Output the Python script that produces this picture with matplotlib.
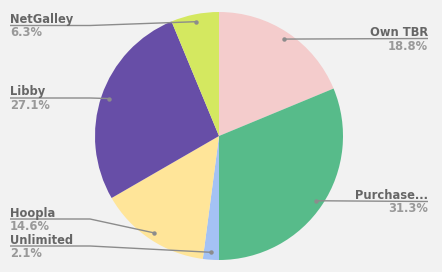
import numpy as np
import matplotlib.pyplot as plt
from decimal import Decimal, ROUND_HALF_UP

labels = ['Own TBR', 'Purchase...', 'Unlimited', 'Hoopla', 'Libby', 'NetGalley']
counts = [9, 15, 1, 7, 13, 3]
colors = ['#f4cccc', '#57bb8a', '#a4c2f4', '#ffe599', '#674ea7', '#d4e860']

W, H = 442, 272
fig = plt.figure(figsize=(W / 100, H / 100), dpi=100, facecolor='#f2f2f2')
ax = fig.add_axes([0, 0, 1, 1])
ax.set_facecolor('#f2f2f2')

cx, cy, r = 219, H - 136, 124
wedges, _ = ax.pie(counts, colors=colors, startangle=90, counterclock=False,
                   center=(cx, cy), radius=r, wedgeprops=dict(linewidth=0))
ax.set_xlim(0, W)
ax.set_ylim(0, H)
ax.set_aspect('equal')
ax.axis('off')

# label layout (pixel y of the underline, measured from top)
line_y = {'Own TBR': 38.5, 'Purchase...': 201.5, 'Unlimited': 246,
          'Hoopla': 219, 'Libby': 98, 'NetGalley': 25.5}

total = sum(counts)
line_col = '#8c8c8c'
for w, lab, c in zip(wedges, labels, counts):
    mid = np.deg2rad((w.theta1 + w.theta2) / 2)
    dx = cx + 0.94 * r * np.cos(mid)
    dy = cy + 0.94 * r * np.sin(mid)
    ly = H - line_y[lab]
    p = Decimal(100 * c) / Decimal(total)
    pct = str(p.quantize(Decimal('0.1'), rounding=ROUND_HALF_UP)) + '%'
    if np.cos(mid) >= 0:
        xs, ys = [dx, 428], [dy, ly]
        tx, ha = 428, 'right'
    else:
        xs, ys = [dx, 90, 10], [dy, ly, ly]
        tx, ha = 10, 'left'
    ax.plot(xs, ys, color=line_col, lw=1, solid_capstyle='butt')
    ax.plot(dx, dy, 'o', color=line_col, ms=3.2, mec='none')
    ax.text(tx, ly + 2.5, lab, ha=ha, va='baseline', fontsize=8.3,
            fontweight='bold', color='#666666')
    ax.text(tx, ly - 1.0, pct, ha=ha, va='top', fontsize=8.3,
            fontweight='bold', color='#999999')

fig.savefig('out.png', dpi=100, facecolor=fig.get_facecolor())
